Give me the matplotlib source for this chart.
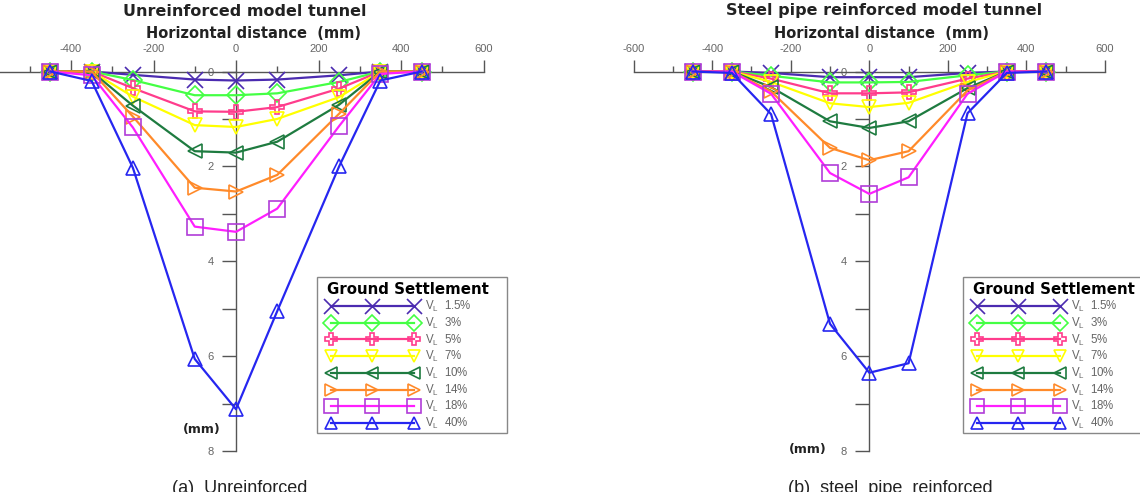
import matplotlib
matplotlib.use("Agg")
import matplotlib.pyplot as plt
from matplotlib.ticker import MultipleLocator
from matplotlib.patches import Rectangle

plt.rcParams['font.family'] = ['Liberation Sans', 'DejaVu Sans']
plt.rcParams['mathtext.fontset'] = 'custom'
plt.rcParams['mathtext.rm'] = 'Liberation Sans'
plt.rcParams['axes.unicode_minus'] = False

# ---------------- data ----------------
x_pos = [-450, -350, -250, -100, 0, 100, 250, 350, 450]
series_labels = ['1.5%', '3%', '5%', '7%', '10%', '14%', '18%', '40%']

# (a) Unreinforced model tunnel : settlement (mm)
unrein_vl1_5 = [0, 0, 0.07, 0.17, 0.19, 0.17, 0.08, 0, 0]
unrein_vl3 = [0, 0, 0.18, 0.50, 0.50, 0.46, 0.22, 0, 0]
unrein_vl5 = [0, 0, 0.35, 0.84, 0.85, 0.75, 0.36, 0, 0]
unrein_vl7 = [0, 0, 0.53, 1.13, 1.17, 1.00, 0.54, 0, 0]
unrein_vl10 = [0, 0, 0.72, 1.68, 1.71, 1.48, 0.70, 0, 0]
unrein_vl14 = [0, 0, 0.95, 2.45, 2.53, 2.18, 0.89, 0, 0]
unrein_vl18 = [0, 0.08, 1.18, 3.27, 3.38, 2.89, 1.15, 0.05, 0]
unrein_vl40 = [0, 0.20, 2.03, 6.06, 7.12, 5.05, 2.00, 0.19, 0]

# (b) Steel pipe reinforced model tunnel : settlement (mm)
steel_vl1_5 = [0, 0, 0.03, 0.12, 0.12, 0.12, 0.03, 0, 0]
steel_vl3 = [0, 0, 0.09, 0.23, 0.23, 0.22, 0.08, 0, 0]
steel_vl5 = [0, 0, 0.15, 0.46, 0.46, 0.44, 0.15, 0, 0]
steel_vl7 = [0, 0, 0.22, 0.67, 0.75, 0.66, 0.22, 0, 0]
steel_vl10 = [0, 0, 0.33, 1.05, 1.19, 1.05, 0.35, 0, 0]
steel_vl14 = [0, 0, 0.42, 1.61, 1.87, 1.68, 0.40, 0, 0]
steel_vl18 = [0, 0, 0.47, 2.14, 2.58, 2.23, 0.47, 0, 0]
steel_vl40 = [0, 0.03, 0.90, 5.32, 6.35, 6.15, 0.88, 0.03, 0]

unrein_series = [unrein_vl1_5, unrein_vl3, unrein_vl5, unrein_vl7,
                 unrein_vl10, unrein_vl14, unrein_vl18, unrein_vl40]
steel_series = [steel_vl1_5, steel_vl3, steel_vl5, steel_vl7,
                steel_vl10, steel_vl14, steel_vl18, steel_vl40]

# ---------------- styles ----------------
line_colors = ['#4B2BB0', '#44FF44', '#FF3C8C', '#FFFF00',
               '#1E7B40', '#FF8A2A', '#FF1EFF', '#2626F0']
edge_colors = ['#4B2BB0', '#44FF44', '#FF3C8C', '#FFFF00',
               '#1E7B40', '#FF8A2A', '#B03CD8', '#2626F0']
markers = ['x', 'D', 'P', 'v', '<', '>', 's', '^']
msizes = [12, 9, 10, 10, 10, 10, 11, 10]

W, H = 1140, 492
fig = plt.figure(figsize=(W / 100, H / 100), dpi=100)

gray = '#555555'
bold_font = ['DejaVu Sans']


def style_axis(ax):
    ax.set_xlim(-600, 600)
    ax.set_ylim(8, 0)
    for s in ['right', 'bottom']:
        ax.spines[s].set_visible(False)
    ax.spines['left'].set_position(('data', 0))
    ax.spines['left'].set_color(gray)
    ax.spines['top'].set_color(gray)
    ax.spines['left'].set_linewidth(1)
    ax.spines['top'].set_linewidth(1)
    ax.xaxis.tick_top()
    ax.xaxis.set_major_locator(MultipleLocator(200))
    ax.xaxis.set_minor_locator(MultipleLocator(100))
    ax.yaxis.set_major_locator(MultipleLocator(2))
    ax.yaxis.set_minor_locator(MultipleLocator(1))
    ax.tick_params(axis='x', which='major', direction='out', length=8.5,
                   width=1, color=gray, labelcolor='#666666', labelsize=8, pad=4)
    ax.tick_params(axis='x', which='minor', direction='out', length=4,
                   width=1, color=gray)
    ax.tick_params(axis='y', which='both', direction='out', length=10,
                   width=1, color=gray, labelcolor='#666666', labelsize=8, pad=6)
    ax.patch.set_alpha(0)


def draw(ax, series):
    handles = []
    for vals, lc, ec, m, ms in zip(series, line_colors, edge_colors, markers, msizes):
        h, = ax.plot(x_pos, vals, color=lc, lw=1.6, marker=m, ms=ms,
                     markerfacecolor='none', markeredgecolor=ec,
                     markeredgewidth=1.2, clip_on=False, zorder=3)
        handles.append(h)
    return handles


def add_legend(handles, x0, x1):
    # frame drawn as a plain rectangle (box extends a bit wider than content)
    fig.patches.append(Rectangle((x0 / W, 1 - 433 / H), (x1 - x0) / W, 156 / H,
                                 transform=fig.transFigure, facecolor='white',
                                 edgecolor='#888888', lw=1, zorder=4))
    labels = [r'V$_{\mathregular{L}}$  ' + s for s in series_labels]
    leg = fig.legend(handles, labels, loc='upper left',
                     bbox_to_anchor=((x0 + 7) / W, 1 - 279 / H),
                     bbox_transform=fig.transFigure, borderaxespad=0,
                     numpoints=3, handlelength=7.8, fontsize=8.3,
                     labelspacing=0.14, handletextpad=0.7, borderpad=0.3,
                     frameon=False, markerscale=0.9, alignment='left',
                     title='Ground Settlement',
                     title_fontproperties={'weight': 'bold', 'size': 10.8,
                                           'family': bold_font})
    leg.set_zorder(5)
    for t in leg.get_texts():
        t.set_color('#666666')
    return leg


bottom = 1 - 451 / H
height = (451 - 71.5) / H

ax1 = fig.add_axes([-11.5 / W, bottom, 495 / W, height])
style_axis(ax1)
h1 = draw(ax1, unrein_series)
add_legend(h1, 317, 507)

ax2 = fig.add_axes([633.6 / W, bottom, 471.4 / W, height])
style_axis(ax2)
h2 = draw(ax2, steel_series)
add_legend(h2, 963, 1153)

# titles and axis labels
tkw = dict(ha='center', va='center', fontweight='bold', color='#222222',
           family=bold_font)
fig.text(245 / W, 1 - 11 / H, 'Unreinforced model tunnel', fontsize=11.5, **tkw)
fig.text(884 / W, 1 - 11 / H, 'Steel pipe reinforced model tunnel', fontsize=11.5, **tkw)
fig.text(253 / W, 1 - 33 / H, 'Horizontal distance  (mm)', fontsize=10.5, **tkw)
fig.text(882 / W, 1 - 33 / H, 'Horizontal distance  (mm)', fontsize=10.5, **tkw)
fig.text(202 / W, 1 - 430 / H, '(mm)', fontsize=9, **tkw)
fig.text(808 / W, 1 - 449 / H, '(mm)', fontsize=9, **tkw)

# captions (partially cut at the bottom, as in the reference)
fig.text(240 / W, 1 - 480 / H, '(a)  Unreinforced', ha='center', va='top',
         fontsize=13, color='#222222')
fig.text(890 / W, 1 - 480 / H, '(b)  steel  pipe  reinforced', ha='center', va='top',
         fontsize=13, color='#222222')

fig.savefig('out.png', dpi=100)
